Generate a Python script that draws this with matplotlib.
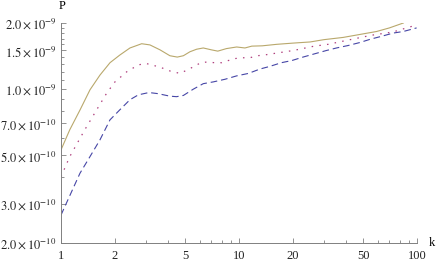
import matplotlib
matplotlib.use("Agg")
import matplotlib.pyplot as plt
from matplotlib.ticker import FixedLocator, NullFormatter

plt.rcParams['font.family'] = ['Liberation Serif', 'DejaVu Serif']
plt.rcParams['mathtext.fontset'] = 'stix'

# solid curve (olive)
k_solid = [1.0, 1.12, 1.28, 1.455, 1.656, 1.885, 2.14, 2.44, 2.84, 3.16, 3.6, 4.09, 4.5,
           4.87, 5.3, 5.78, 6.3, 7.0, 7.6, 8.5, 9.7, 10.8, 11.8, 13.5, 16.3, 20.0, 25.1,
           30.0, 38.5, 47.0, 59.3, 70.0, 83.8]
p_solid = [0.53, 0.654, 0.806, 0.994, 1.16, 1.32, 1.43, 1.54, 1.61, 1.59, 1.51, 1.42, 1.40,
           1.42, 1.48, 1.52, 1.54, 1.51, 1.49, 1.53, 1.556, 1.54, 1.57, 1.575, 1.60, 1.62, 1.64,
           1.68, 1.72, 1.77, 1.83, 1.90, 2.0]

# dotted curve (magenta)
k_dot = [1.0, 1.12, 1.36, 1.586, 1.806, 2.01, 2.34, 2.72, 3.0, 3.6, 4.1, 4.66, 5.19, 5.6,
         6.1, 6.64, 7.27, 8.0, 8.7, 9.6, 10.5, 11.5, 12.7, 13.8, 16.3, 20.2, 26.5, 31.7,
         42.1, 55.6, 73.1, 95.4, 100.0]
p_dot = [0.40, 0.494, 0.654, 0.806, 0.96, 1.08, 1.20, 1.29, 1.31, 1.26, 1.21, 1.18, 1.23, 1.27,
         1.32, 1.33, 1.32, 1.32, 1.35, 1.38, 1.39, 1.39, 1.42, 1.43, 1.46, 1.50, 1.57, 1.60,
         1.68, 1.76, 1.82, 1.94, 1.96]

# dashed curve (blue)
k_dash = [1.0, 1.278, 1.455, 1.656, 1.885, 2.14, 2.44, 2.72, 3.12, 3.5, 4.09, 4.46, 4.87,
          5.53, 6.3, 7.18, 8.35, 9.7, 11.3, 13.1, 14.9, 17.3, 19.8, 22.9, 26.7, 31.0, 35.3,
          41.0, 47.7, 55.0, 63.2, 73.5, 83.8, 99.5]
p_dash = [0.268, 0.415, 0.494, 0.589, 0.726, 0.806, 0.896, 0.943, 0.966, 0.955, 0.93, 0.925, 0.937,
          1.0, 1.06, 1.08, 1.11, 1.15, 1.18, 1.235, 1.27, 1.32, 1.35, 1.40, 1.45, 1.50, 1.54,
          1.58, 1.63, 1.69, 1.74, 1.80, 1.83, 1.90]

x_major = [1, 2, 5, 10, 20, 50, 100]
x_minor = [3, 4, 6, 7, 8, 9, 30, 40, 60, 70, 80, 90]
y_major = [2e-10, 3e-10, 5e-10, 7e-10, 1e-9, 1.5e-9, 2e-9]
y_labels = [r'$2.0\times10^{-10}$', r'$3.0\times10^{-10}$', r'$5.0\times10^{-10}$',
            r'$7.0\times10^{-10}$', r'$1.0\times10^{-9}$', r'$1.5\times10^{-9}$',
            r'$2.0\times10^{-9}$']
y_minor = [4e-10, 6e-10, 8e-10, 9e-10, 1.1e-9, 1.2e-9, 1.3e-9, 1.4e-9,
           1.6e-9, 1.7e-9, 1.8e-9, 1.9e-9]

fig = plt.figure(figsize=(4.36, 2.63), dpi=100)
ax = fig.add_axes([61/436, 20/263, 356/436, 220/263])

sc = 1e-9
ax.plot(k_solid, [p*sc for p in p_solid], color='#b9a86c', lw=0.8)
ax.plot(k_dot, [p*sc for p in p_dot], color='#b0407e', lw=0.9, ls=(0, (1.2, 5.0)))
ax.plot(k_dash, [p*sc for p in p_dash], color='#4646a6', lw=0.8, ls=(0, (6, 3.5)))

ax.set_xscale('log')
ax.set_yscale('log')
ax.set_xlim(1, 100)
ax.set_ylim(2e-10, 2e-9)

ax.xaxis.set_major_locator(FixedLocator(x_major))
ax.xaxis.set_minor_locator(FixedLocator(x_minor))
ax.set_xticklabels([str(v) for v in x_major])
ax.xaxis.set_minor_formatter(NullFormatter())
ax.yaxis.set_major_locator(FixedLocator(y_major))
ax.yaxis.set_minor_locator(FixedLocator(y_minor))
ax.set_yticklabels(y_labels)
ax.yaxis.set_minor_formatter(NullFormatter())

for s in ['top', 'right']:
    ax.spines[s].set_visible(False)
for s in ['left', 'bottom']:
    ax.spines[s].set_color('#808080')
    ax.spines[s].set_linewidth(0.7)

ax.tick_params(which='both', direction='in', color='#808080', width=0.6,
               labelsize=9, labelcolor='#222222')
ax.tick_params(which='major', length=3.5)
ax.tick_params(which='minor', length=2)
ax.tick_params(axis='x', pad=5)
ax.tick_params(axis='y', pad=3)

ax.annotate('P', xy=(0, 1), xycoords='axes fraction', xytext=(1, 8),
            textcoords='offset points', ha='center', va='bottom', fontsize=9)
ax.annotate('k', xy=(1, 0), xycoords='axes fraction', xytext=(11, 0),
            textcoords='offset points', ha='center', va='center', fontsize=9)

fig.savefig('out.png', dpi=100)
